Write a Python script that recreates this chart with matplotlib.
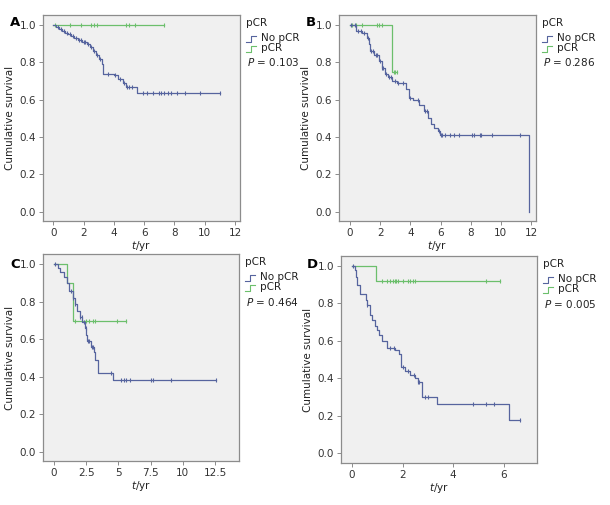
import numpy as np
import matplotlib
matplotlib.use("Agg")
import matplotlib.pyplot as plt

plt.rcParams['font.family'] = ['DejaVu Sans']

# ---------------- data ----------------
# Panel A
a_nop_t = [0.2, 0.4, 0.6, 0.8, 1.0, 1.2, 1.4, 1.6, 1.9, 2.2, 2.4, 2.6, 2.8, 3.0, 3.2, 3.3, 4.0, 4.3, 4.6, 4.8, 5.5]
a_nop_s = [0.99, 0.98, 0.97, 0.96, 0.95, 0.94, 0.93, 0.92, 0.91, 0.90, 0.88, 0.86, 0.84, 0.82, 0.79, 0.74, 0.73, 0.71, 0.69, 0.67, 0.635]
a_nop_c = [0.3, 0.5, 0.7, 0.9, 1.1, 1.3, 1.5, 1.7, 1.8, 2.0, 2.1, 2.3, 2.5, 2.7, 2.9, 3.1, 3.6, 4.1, 4.4, 4.7, 4.9, 5.0, 5.2,
           5.9, 6.2, 6.6, 7.0, 7.1, 7.3, 7.6, 7.8, 8.2, 8.7, 9.7, 11.0]
a_p_t = []
a_p_s = []
a_p_c = [0.1, 1.1, 1.8, 2.5, 2.7, 2.9, 4.8, 5.0, 5.4, 7.3]
a_pval = "0.103"

# Panel B
b_nop_t = [0.4, 0.8, 1.1, 1.25, 1.35, 1.6, 1.9, 2.1, 2.3, 2.5, 2.8, 3.1, 3.7, 3.9, 4.2, 4.6, 4.9, 5.2, 5.4, 5.6, 5.8, 5.95, 11.85]
b_nop_s = [0.97, 0.96, 0.93, 0.90, 0.86, 0.84, 0.81, 0.77, 0.74, 0.72, 0.70, 0.69, 0.66, 0.61, 0.60, 0.57, 0.54, 0.50, 0.47, 0.45, 0.43, 0.41, 0.0]
b_nop_c = [0.05, 0.3, 0.5, 0.7, 0.9, 1.2, 1.4, 1.5, 1.7, 1.8, 2.0, 2.15, 2.2, 2.4, 2.6, 2.7, 3.0, 3.2, 3.5, 4.0, 4.5, 5.0, 5.1,
           5.9, 6.0, 6.1, 6.3, 6.6, 6.9, 7.2, 8.1, 8.2, 8.6, 8.7, 9.4, 11.3]
b_p_t = [2.8]
b_p_s = [0.75]
b_p_c = [0.1, 0.4, 0.8, 1.8, 1.9, 2.1, 2.9, 3.0, 3.1]
b_pval = "0.286"

# Panel C
c_nop_t = [0.3, 0.5, 0.8, 1.0, 1.2, 1.45, 1.6, 1.8, 2.0, 2.2, 2.4, 2.5, 2.6, 2.9, 3.1, 3.2, 3.4, 4.6]
c_nop_s = [0.98, 0.96, 0.93, 0.90, 0.86, 0.82, 0.79, 0.75, 0.72, 0.69, 0.66, 0.62, 0.59, 0.56, 0.53, 0.49, 0.42, 0.38]
c_nop_c = [0.1, 1.3, 1.5, 1.65, 2.05, 2.15, 2.3, 2.45, 2.65, 2.75, 2.95, 3.05, 4.4, 5.2, 5.4, 5.6, 5.9, 7.5, 7.7, 9.1, 12.6]
c_p_t = [1.0, 1.5]
c_p_s = [0.90, 0.70]
c_p_c = [1.6, 2.5, 2.7, 3.0, 3.2, 4.9, 5.6]
c_pval = "0.464"

# Panel D
d_nop_t = [0.1, 0.15, 0.2, 0.3, 0.55, 0.6, 0.7, 0.8, 0.9, 1.0, 1.05, 1.2, 1.4, 1.7, 1.85, 1.95, 2.1, 2.3, 2.5, 2.6, 2.75, 3.35, 6.2]
d_nop_s = [0.98, 0.94, 0.90, 0.85, 0.82, 0.79, 0.74, 0.71, 0.68, 0.66, 0.63, 0.60, 0.56, 0.55, 0.53, 0.46, 0.44, 0.42, 0.40, 0.38, 0.30, 0.265, 0.175]
d_nop_c = [0.05, 0.6, 1.5, 1.65, 2.0, 2.2, 2.45, 2.6, 2.65, 2.9, 3.0, 4.8, 5.3, 5.6, 6.65]
d_p_t = [0.95]
d_p_s = [0.92]
d_p_c = [1.2, 1.4, 1.5, 1.6, 1.7, 1.75, 1.8, 2.0, 2.2, 2.3, 2.4, 2.5, 5.3, 5.85]
d_pval = "0.005"

panel_letters = ["A", "B", "C", "D"]
xticks_list = [[0, 2, 4, 6, 8, 10, 12], [0, 2, 4, 6, 8, 10, 12],
               [0, 2.5, 5, 7.5, 10, 12.5], [0, 2, 4, 6]]
xticklabels_list = [["0", "2", "4", "6", "8", "10", "12"], ["0", "2", "4", "6", "8", "10", "12"],
                    ["0", "2.5", "5", "7.5", "10", "12.5"], ["0", "2", "4", "6"]]
yticks = [0.0, 0.2, 0.4, 0.6, 0.8, 1.0]
yticklabels = ["0.0", "0.2", "0.4", "0.6", "0.8", "1.0"]

# ---------------- style ----------------
W, H = 610, 505
C_NOP = "#56649e"
C_P = "#6cbf6c"
BG = "#f0f0f0"
SPINE = "#8c8c8c"

fig = plt.figure(figsize=(W / 100, H / 100), dpi=100)

def rect(l, t, r, b):
    return [l / W, 1 - b / H, (r - l) / W, (b - t) / H]

rects = [rect(43, 15, 240, 221), rect(339, 15, 536, 221),
         rect(43, 254, 239, 461), rect(341, 256, 537, 463)]
xlims = [(-0.68, 12.33), (-0.73, 12.33), (-0.85, 14.36), (-0.44, 7.32)]
ylims = [(-0.05, 1.054), (-0.05, 1.054), (-0.05, 1.055), (-0.052, 1.053)]
letter_pos = [(20, 23), (316, 23), (20, 264), (318, 265)]

panels = [
    (a_nop_t, a_nop_s, a_nop_c, a_p_t, a_p_s, a_p_c, a_pval),
    (b_nop_t, b_nop_s, b_nop_c, b_p_t, b_p_s, b_p_c, b_pval),
    (c_nop_t, c_nop_s, c_nop_c, c_p_t, c_p_s, c_p_c, c_pval),
    (d_nop_t, d_nop_s, d_nop_c, d_p_t, d_p_s, d_p_c, d_pval),
]


def step_surv(ev_t, ev_s, t):
    s = 1.0
    for tt, ss in zip(ev_t, ev_s):
        if tt <= t:
            s = ss
    return s


def draw_km(ax, ev_t, ev_s, cens, color, t_end):
    xs = [0.0] + list(ev_t)
    ys = [1.0] + list(ev_s)
    xs = xs + [t_end]
    ys = ys + [ys[-1]]
    ax.step(xs, ys, where="post", color=color, lw=0.9)
    cy = [step_surv(ev_t, ev_s, c) for c in cens]
    ax.plot(cens, cy, linestyle="none", marker="|", color=color, ms=3.5, mew=0.8)


for i, (ax_rect, pnl) in enumerate(zip(rects, panels)):
    nt, ns, nc, pt, ps, pc, pval = pnl
    ax = fig.add_axes(ax_rect)
    ax.set_facecolor(BG)
    t_end_n = max(list(nt) + list(nc))
    t_end_p = max(list(pt) + list(pc))
    draw_km(ax, pt, ps, pc, C_P, t_end_p)
    draw_km(ax, nt, ns, nc, C_NOP, t_end_n)
    ax.set_xlim(*xlims[i])
    ax.set_ylim(*ylims[i])
    ax.set_xticks(xticks_list[i])
    ax.set_xticklabels(xticklabels_list[i])
    ax.set_yticks(yticks)
    ax.set_yticklabels(yticklabels)
    for sp in ax.spines.values():
        sp.set_color(SPINE)
        sp.set_linewidth(0.9)
    ax.tick_params(axis="both", labelsize=7.5, colors="#333333", length=3, width=0.7, pad=2)
    ax.tick_params(axis="both", color=SPINE)
    ax.set_ylabel("Cumulative survival", fontsize=7.5, color="#222222", labelpad=3)
    ax.set_xlabel("$\\it{t}$/yr", fontsize=7.5, color="#222222", labelpad=1)

    # panel letter (figure pixel coords, just left of the top tick label)
    lx, ly = letter_pos[i]
    fig.text(lx / W, 1 - ly / H, panel_letters[i], fontsize=9.5, fontweight="bold",
             ha="right", va="center")

    # legend (outside right)
    x0 = 1.03
    ax.text(x0, 0.96, "pCR", transform=ax.transAxes, fontsize=7.5, ha="left", va="center", color="#222222")
    for k, (lab, col) in enumerate([("No pCR", C_NOP), ("pCR", C_P)]):
        yy = 0.885 - k * 0.05
        ax.plot([x0, x0 + 0.025, x0 + 0.025, x0 + 0.05], [yy - 0.015, yy - 0.015, yy + 0.015, yy + 0.015],
                transform=ax.transAxes, clip_on=False, color=col, lw=0.8)
        ax.text(x0 + 0.075, yy + 0.005, lab, transform=ax.transAxes, fontsize=7.5, ha="left",
                va="center", color="#222222")
    ax.text(x0 + 0.005, 0.77, "$\\it{P}$ = " + pval, transform=ax.transAxes, fontsize=7.5,
            ha="left", va="center", color="#222222")

fig.savefig("out.png", dpi=100)
